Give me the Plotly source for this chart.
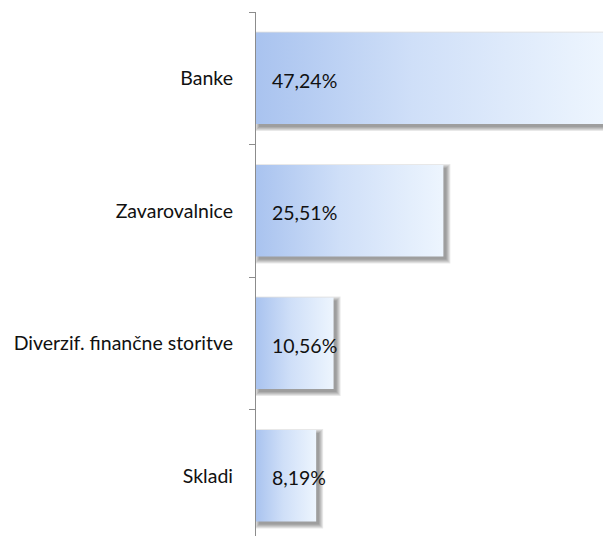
import plotly.graph_objects as go

categories = ["Banke", "Zavarovalnice", "Diverzif. finančne storitve", "Skladi"]
values = [47.24, 25.51, 10.56, 8.19]
value_labels = ["47,24%", "25,51%", "10,56%", "8,19%"]

W, H = 603, 536
ML, MR, MT, MB = 256, 0, 12, 0
BAR_W = 0.69
pos = list(range(len(categories)))
x_max = max(values)
y_range = [-0.5 + (H - MT - MB) / 132.5, -0.5]

px_x = (W - ML - MR) / x_max
px_y = (H - MT - MB) / abs(y_range[0] - y_range[1])

FONT = "Lato"
FSIZE = 19.5

fig = go.Figure()

# soft drop shadow (several translucent layers)
sx, sy = 3 / px_x, 3 / px_y
for b_px in [0, 1, 2, 3, 4]:
    bx, by = b_px / px_x, b_px / px_y
    fig.add_trace(go.Bar(
        y=pos, x=[v + 2 * bx for v in values], base=sx - bx,
        orientation="h", width=BAR_W + 2 * by, offset=-(BAR_W / 2) - by + sy,
        marker=dict(color="rgba(0,0,0,0.09)", line=dict(width=0)),
        hoverinfo="skip", showlegend=False,
    ))

# gradient bars
for p, v, lab, cat in zip(pos, values, value_labels, categories):
    y0, y1 = p - BAR_W / 2, p + BAR_W / 2
    fig.add_trace(go.Scatter(
        x=[0, v, v, 0, 0], y=[y0, y0, y1, y1, y0],
        mode="lines", line=dict(width=0, color="rgba(0,0,0,0)"),
        fill="toself",
        fillgradient=dict(type="horizontal",
                          colorscale=[[0, "#a9c3ef"], [0.45, "#cfdff8"], [1, "#edf5fe"]]),
        hoverinfo="text", text=f"{cat}: {lab}", showlegend=False,
    ))

# dummy trace to carry category labels axis
fig.add_trace(go.Scatter(x=[None], y=[None], yaxis="y2", showlegend=False, hoverinfo="skip"))

for p, lab in zip(pos, value_labels):
    fig.add_annotation(x=0, y=p, text=lab, xanchor="left", yanchor="middle",
                       xshift=14, yshift=-2, showarrow=False,
                       font=dict(family=FONT, size=FSIZE, color="#111111"))

fig.update_layout(
    width=W, height=H,
    margin=dict(l=ML, r=MR, t=MT, b=MB),
    plot_bgcolor="white", paper_bgcolor="white",
    showlegend=False,
    barmode="overlay",
    xaxis=dict(range=[0, x_max], visible=False, fixedrange=True),
    yaxis=dict(range=y_range, tickvals=[p - 0.5 for p in pos], ticktext=[""] * len(pos),
               ticks="outside", ticklen=6, tickcolor="#8c8c8c", tickwidth=1,
               showline=True, linecolor="#8c8c8c", linewidth=1,
               showgrid=False, zeroline=False, fixedrange=True),
    yaxis2=dict(overlaying="y", matches="y", side="left", tickvals=pos, ticktext=categories,
                ticks="", showline=False, showgrid=False, zeroline=False,
                ticklabelstandoff=22, fixedrange=True,
                tickfont=dict(family=FONT, size=FSIZE, color="#111111")),
)

fig.write_html("out.html", config={"displayModeBar": False},
               post_script="document.body.style.margin='0';document.body.style.overflow='hidden';")
